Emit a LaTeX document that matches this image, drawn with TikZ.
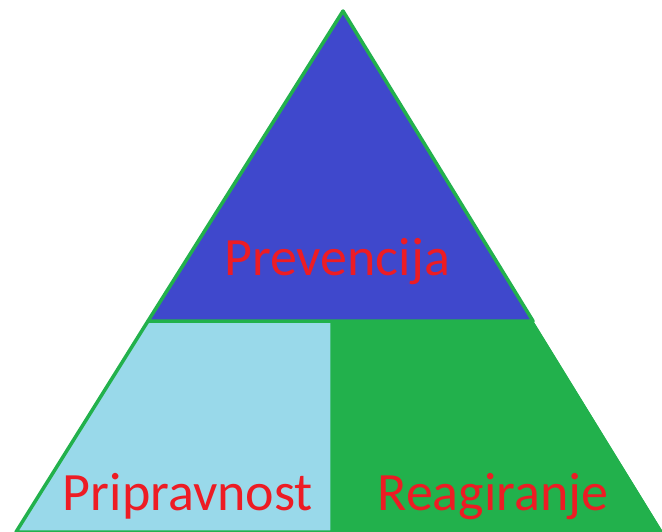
\documentclass[tikz,border=0pt]{standalone}
\usepackage{fontspec}
\setmainfont{Carlito}
\usepackage{xcolor}
\definecolor{pyrblue}{HTML}{3F48CC}
\definecolor{pyrlight}{HTML}{99D9EA}
\definecolor{pyrgreen}{HTML}{22B14C}
\definecolor{pyrred}{HTML}{ED1C24}
\tikzstyle{layer} = [draw=pyrgreen, 
line width=3.5pt, 
line join=round]
\tikzstyle{label} = [text=pyrred, 
anchor=base, 
inner sep=0pt, 
font=\fontsize{54}{62}\selectfont]

\begin{document}
\begin{tikzpicture}[x=1pt, y=-1pt]
			\useasboundingbox (0,0) rectangle (662,532);
			
			\coordinate (apex) at (343,11);
			\coordinate (midL) at (148,321);
			\coordinate (midR) at (533,321);
			\coordinate (midC) at (332,321);
			\coordinate (botL) at (16,532);
			\coordinate (botC) at (332,532);
			\coordinate (botR) at (663,532);
			
			\fill [pyrgreen] (apex) -- (botR) -- (botL) -- cycle;
			\draw [layer, fill=pyrlight] (midL) -- (midC) -- (botC) -- (botL) -- cycle;
			\draw [layer, fill=pyrgreen, draw=none] (midC) -- (midR) -- (botR) -- (botC) -- cycle;
			\draw [layer, fill=pyrblue] (apex) -- (midR) -- (midL) -- cycle;
			
			\node (prev) [label] at (337,276) {Prevencija};
			\node (prip) [label] at (188,510) {Pripravnost};
			\node (reag) [label] at (493,510) {Reagiranje};
			
		\end{tikzpicture}
\end{document}
